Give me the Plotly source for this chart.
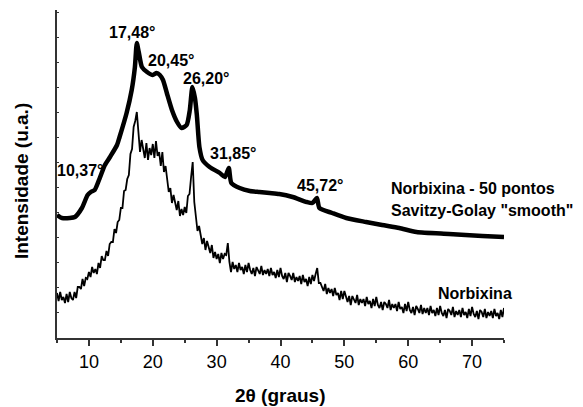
import plotly.graph_objects as go

# ---- data ----
# smoothed curve (Savitzky-Golay, 50 points), arbitrary intensity units
smooth_2theta = [5.0, 5.8, 7.0, 7.8, 8.9, 9.8, 10.3, 10.9, 11.7, 12.5, 13.3, 14.4, 14.8,
                 15.9, 16.7, 17.2, 17.5, 17.8, 18.3, 19.1, 20.0, 20.6, 21.1, 21.6, 22.2,
                 23.0, 23.8, 24.5, 25.3, 25.8, 26.2, 26.6, 26.9, 27.3, 27.8, 28.9, 30.5,
                 31.3, 31.9, 32.3, 33.6, 35.2, 36.7, 38.3, 39.8, 41.9, 44.1, 45.0, 45.7,
                 46.1, 48.1, 50.3, 53.4, 55.9, 58.6, 61.3, 66.4, 71.6, 75.0]
smooth_int = [123, 120, 120, 121, 130, 143, 146, 148, 160, 173, 181, 193, 201,
              225, 248, 271, 295, 286, 271, 266, 263, 265, 263, 258, 245,
              228, 216, 210, 213, 228, 251, 240, 223, 191, 178, 171, 165,
              161, 170, 155, 150, 147, 146, 145, 144, 141, 136, 135, 140,
              130, 125, 120, 116, 113, 110, 106, 104, 102, 101]

# raw diffractogram, 0.25 degree step from 5 to 75 degrees
raw_start, raw_step = 5.0, 0.25
raw_int = [45, 37, 46, 38, 41, 35, 44, 36, 46, 40, 38, 46, 40, 51, 51, 49, 59, 52, 60, 59,
           66, 61, 71, 65, 69, 64, 75, 70, 82, 78, 78, 87, 82, 94, 96, 96, 109, 105, 116, 118,
           130, 130, 147, 148, 159, 163, 184, 189, 211, 217, 226, 209, 186, 198, 190, 180, 195, 178, 190, 183,
           194, 180, 197, 182, 186, 172, 186, 166, 172, 156, 146, 150, 135, 143, 136, 128, 137, 122, 129, 123,
           131, 125, 142, 144, 161, 176, 136, 124, 107, 112, 101, 94, 100, 88, 97, 92, 85, 93, 80, 86,
           79, 84, 75, 85, 79, 84, 83, 95, 76, 66, 76, 69, 73, 66, 75, 68, 71, 64, 73, 66,
           75, 68, 64, 70, 62, 71, 68, 64, 72, 63, 68, 64, 69, 62, 70, 63, 66, 60, 68, 61,
           70, 62, 59, 65, 56, 65, 62, 58, 65, 56, 61, 57, 62, 54, 63, 56, 59, 52, 61, 54,
           63, 57, 64, 70, 55, 55, 51, 47, 54, 44, 50, 45, 49, 42, 50, 43, 45, 38, 47, 39,
           47, 40, 36, 42, 33, 42, 39, 35, 43, 33, 39, 35, 39, 32, 41, 34, 37, 30, 39, 32,
           41, 33, 30, 36, 28, 36, 34, 30, 38, 28, 34, 30, 34, 27, 36, 29, 31, 25, 34, 27,
           36, 28, 25, 31, 23, 32, 29, 25, 33, 24, 30, 25, 30, 23, 32, 25, 28, 22, 30, 23,
           32, 25, 22, 28, 20, 29, 27, 23, 31, 21, 27, 23, 28, 21, 30, 23, 26, 20, 29, 22,
           31, 24, 21, 27, 19, 28, 26, 21, 29, 20, 26, 22, 27, 20, 29, 22, 25, 19, 28, 21,
           30]
raw_2theta = [raw_start + raw_step * i for i in range(len(raw_int))]

peak_labels = ["10,37°", "17,48°", "20,45°", "26,20°", "31,85°", "45,72°"]
label_x = [8.6, 16.7, 22.8, 28.3, 32.5, 46.25]
label_y = [168, 306, 278, 260, 185, 153]

x_ticks = [10, 20, 30, 40, 50, 60, 70]

FONT = "Liberation Sans, Arial, sans-serif"
ANN = 16

fig = go.Figure()
fig.add_trace(go.Scatter(x=raw_2theta, y=raw_int, mode="lines",
                         line=dict(color="black", width=1.8), showlegend=False))
fig.add_trace(go.Scatter(x=smooth_2theta, y=smooth_int, mode="lines",
                         line=dict(color="black", width=4.5, shape="spline", smoothing=0.6),
                         showlegend=False))

annotations = []
for t, x, y in zip(peak_labels, label_x, label_y):
    annotations.append(dict(x=x, y=y, xref="x", yref="y", text="<b>%s</b>" % t,
                            showarrow=False, font=dict(family=FONT, size=ANN, color="black")))
annotations.append(dict(x=57.0, y=150, xref="x", yref="y", xanchor="left",
                        text="<b>Norbixina - 50 pontos</b>", showarrow=False,
                        font=dict(family=FONT, size=ANN, color="black")))
annotations.append(dict(x=57.0, y=128, xref="x", yref="y", xanchor="left",
                        text="<b>Savitzy-Golay \"smooth\"</b>", showarrow=False,
                        font=dict(family=FONT, size=ANN, color="black")))
annotations.append(dict(x=64.4, y=45, xref="x", yref="y", xanchor="left",
                        text="<b>Norbixina</b>", showarrow=False,
                        font=dict(family=FONT, size=ANN, color="black")))
# axis titles
annotations.append(dict(x=0.5, y=-0.174, xref="paper", yref="paper", yanchor="middle",
                        text="<b>2θ (graus)</b>", showarrow=False,
                        font=dict(family=FONT, size=19, color="black")))
annotations.append(dict(x=-0.078, y=0.479, xref="paper", yref="paper", xanchor="center",
                        yanchor="middle", textangle=-90,
                        text="<b>Intensidade (u.a.)</b>", showarrow=False,
                        font=dict(family=FONT, size=19, color="black")))

fig.update_layout(
    width=583, height=407,
    margin=dict(l=57, r=79, t=10, b=69),
    paper_bgcolor="white", plot_bgcolor="white",
    font=dict(family=FONT, color="black"),
    annotations=annotations,
    xaxis=dict(range=[5, 75], tickvals=x_ticks, ticks="outside", ticklen=6, tickwidth=1.5,
               tickcolor="#333", showline=True, linecolor="#333", linewidth=2,
               showgrid=False, zeroline=False,
               minor=dict(tickvals=[5, 15, 25, 35, 45, 55, 65, 75], ticks="outside",
                          ticklen=3, tickwidth=1.5, tickcolor="#333"),
               tickfont=dict(family=FONT, size=18, color="black")),
    yaxis=dict(range=[0, 328], tick0=1, dtick=25, ticks="inside", ticklen=2, tickwidth=1,
               tickcolor="#333", showticklabels=False, showline=True, linecolor="#333",
               linewidth=2, showgrid=False, zeroline=False),
)

fig.write_html("out.html")
